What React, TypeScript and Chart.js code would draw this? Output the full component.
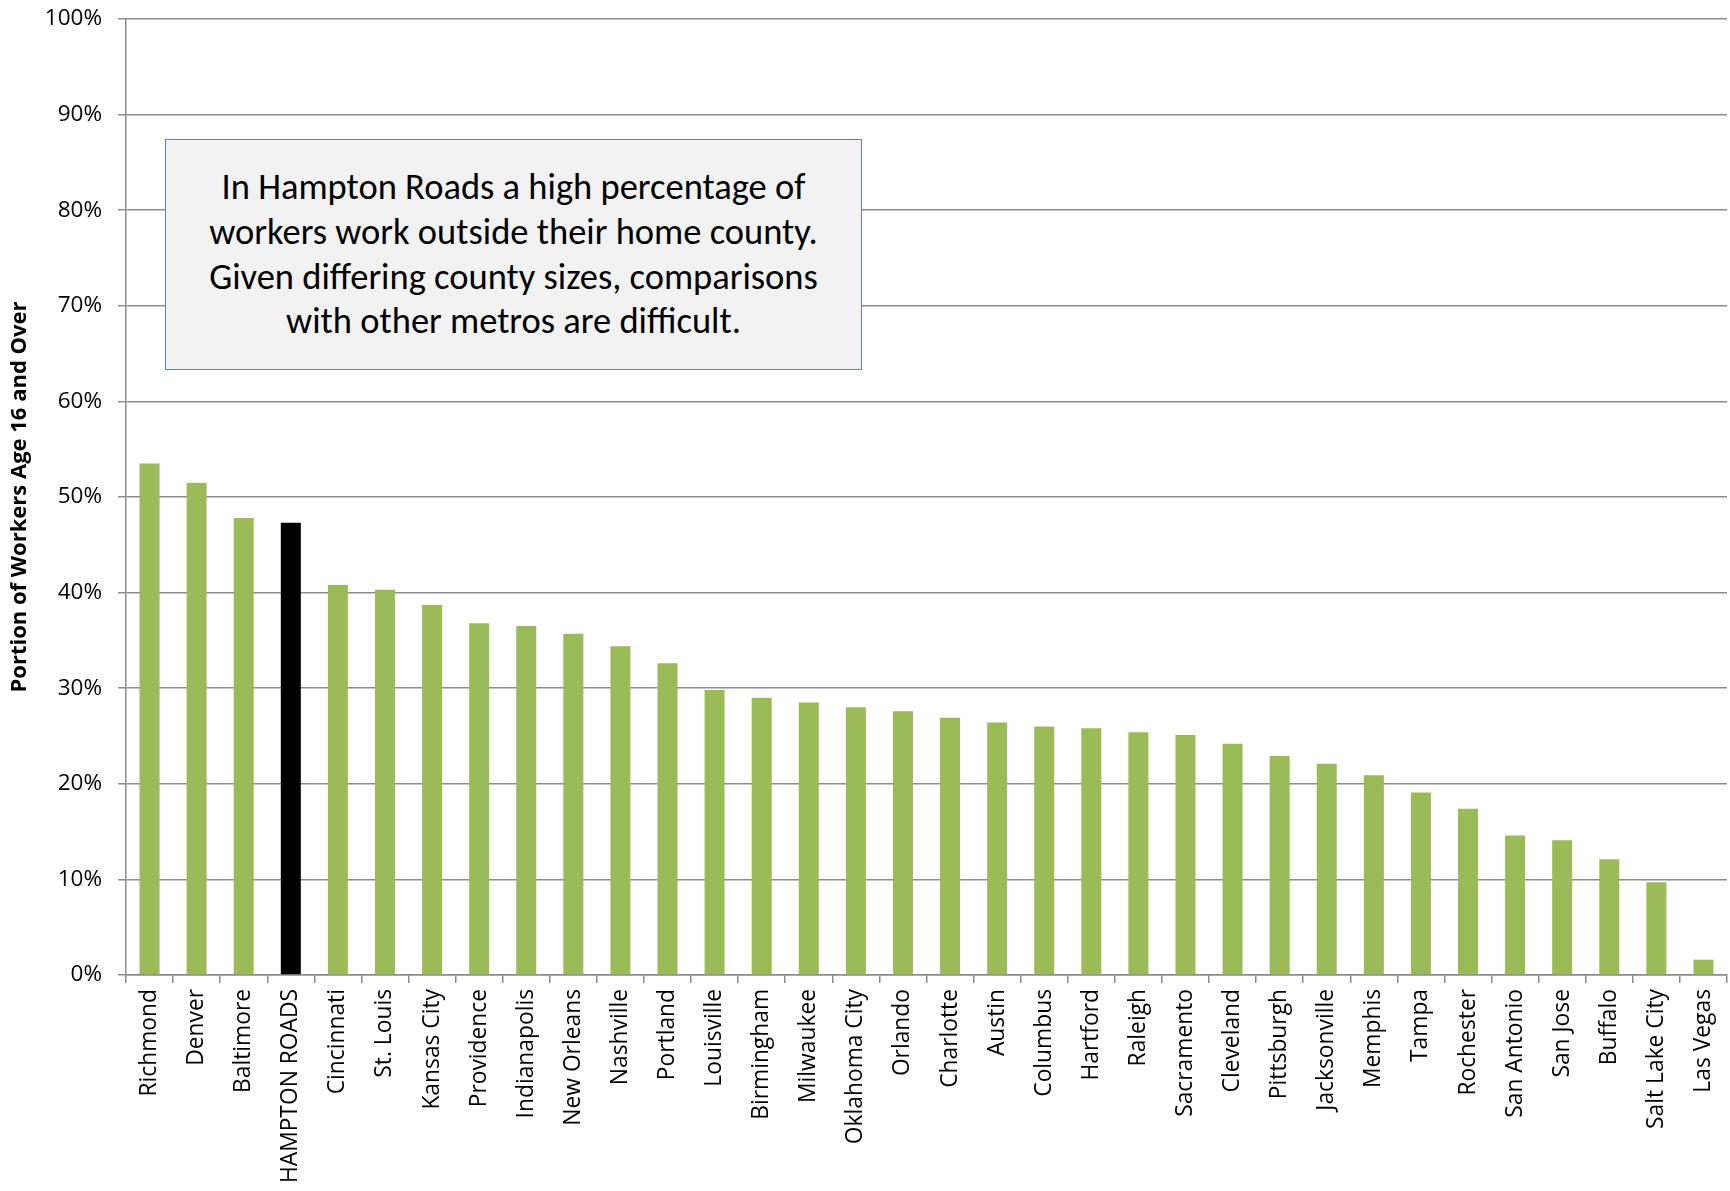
import React, { useEffect, useRef } from "react";
import { Chart, registerables } from "chart.js";

Chart.register(...registerables);

const metros: string[] = [
  "Richmond", "Denver", "Baltimore", "HAMPTON ROADS", "Cincinnati", "St. Louis",
  "Kansas City", "Providence", "Indianapolis", "New Orleans", "Nashville", "Portland",
  "Louisville", "Birmingham", "Milwaukee", "Oklahoma City", "Orlando", "Charlotte",
  "Austin", "Columbus", "Hartford", "Raleigh", "Sacramento", "Cleveland",
  "Pittsburgh", "Jacksonville", "Memphis", "Tampa", "Rochester", "San Antonio",
  "San Jose", "Buffalo", "Salt Lake City", "Las Vegas",
];

const workOutsidePct: number[] = [
  53.5, 51.5, 47.8, 47.3, 40.8, 40.3,
  38.7, 36.8, 36.5, 35.7, 34.4, 32.6,
  29.8, 29.0, 28.5, 28.0, 27.6, 26.9,
  26.4, 26.0, 25.8, 25.4, 25.1, 24.2,
  22.9, 22.1, 20.9, 19.1, 17.4, 14.6,
  14.1, 12.1, 9.7, 1.6,
];

const highlightMetro = "HAMPTON ROADS";
const yTickValues: number[] = [0, 10, 20, 30, 40, 50, 60, 70, 80, 90, 100];
const yAxisTitle = "Portion of Workers Age 16 and Over";
const noteLines: string[] = [
  "In Hampton Roads a high percentage of",
  "workers work outside their home county.",
  "Given differing county sizes, comparisons",
  "with other metros are difficult.",
];

const GREEN = "#9bbb59";
const GRID = "#8c8c8c";

export default function App() {
  const canvasRef = useRef<HTMLCanvasElement | null>(null);

  useEffect(() => {
    if (!canvasRef.current) return;
    const chart = new Chart(canvasRef.current, {
      type: "bar",
      data: {
        labels: metros,
        datasets: [
          {
            data: workOutsidePct,
            backgroundColor: metros.map((m) => (m === highlightMetro ? "#000000" : GREEN)),
            borderWidth: 0,
            barPercentage: 0.425,
            categoryPercentage: 1,
          },
        ],
      },
      options: {
        responsive: true,
        maintainAspectRatio: false,
        animation: false,
        layout: { padding: { top: 19, right: 3, left: 0, bottom: 0 } },
        plugins: {
          legend: { display: false },
          tooltip: { enabled: false },
          title: { display: false },
        },
        scales: {
          x: {
            grid: {
              display: true,
              drawOnChartArea: false,
              drawTicks: true,
              tickLength: 8,
              color: GRID,
              lineWidth: 1.5,
              offset: true,
            },
            border: { display: true, color: GRID, width: 1.5 },
            ticks: {
              autoSkip: false,
              minRotation: 90,
              maxRotation: 90,
              padding: 6,
              color: "#000",
              font: { family: "'Open Sans'", size: 22.8 },
            },
            afterFit: (scale: any) => {
              scale.height = 216;
              scale.paddingRight = 0;
            },
          },
          y: {
            min: 0,
            max: 100,
            afterBuildTicks: (scale: any) => {
              scale.ticks = yTickValues.map((v) => ({ value: v }));
            },
            grid: {
              display: true,
              drawOnChartArea: true,
              drawTicks: true,
              tickLength: 8,
              color: GRID,
              lineWidth: 1.5,
            },
            border: { display: true, color: GRID, width: 1.5 },
            ticks: {
              padding: 16,
              color: "#000",
              font: { family: "'Open Sans'", size: 22.5 },
              callback: (v: any) => `${v}%`,
            },
            title: {
              display: true,
              text: yAxisTitle,
              color: "#000",
              font: { family: "'Open Sans'", size: 22, weight: "bold" },
              padding: { top: 7, bottom: 0 },
            },
            afterFit: (scale: any) => {
              scale.width = 126;
              scale.paddingTop = 0;
              scale.paddingBottom = 0;
            },
          },
        },
      },
    });
    return () => chart.destroy();
  }, []);

  return (
    <div style={{ position: "fixed", left: 0, top: 0, width: 1730, height: 1191, background: "#fff" }}>
      <canvas ref={canvasRef} />
      <div
        style={{
          position: "absolute",
          left: 165,
          top: 139,
          width: 697,
          height: 231,
          boxSizing: "border-box",
          border: "1.5px solid #5b84c4",
          background: "#f2f2f2",
          display: "flex",
          flexDirection: "column",
          justifyContent: "center",
          alignItems: "center",
          fontFamily: "Carlito, Lato, sans-serif",
          fontSize: 36.5,
          lineHeight: "44.7px",
          color: "#000",
          textAlign: "center",
        }}
      >
        {noteLines.map((l, i) => (
          <div key={i} style={{ whiteSpace: "nowrap" }}>{l}</div>
        ))}
      </div>
    </div>
  );
}
